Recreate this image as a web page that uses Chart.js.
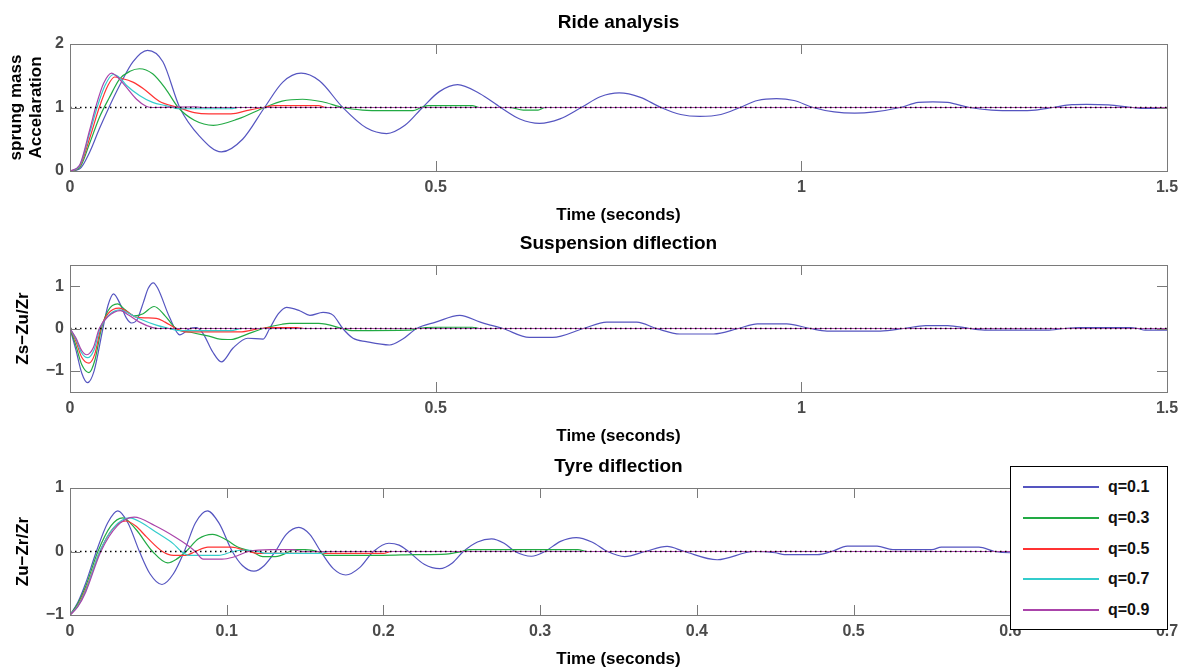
<!DOCTYPE html>
<html>
<head>
<meta charset="utf-8">
<title>Ride analysis</title>
<script src="https://cdn.jsdelivr.net/npm/chart.js@4.4.0/dist/chart.umd.min.js"></script>
<style>
    body { margin: 0; background: #fff; width: 1193px; height: 671px; overflow: hidden; position: relative; font-family: "Liberation Sans", Arial, sans-serif; }
    canvas { position: absolute; left: 0; }
    #legend { position: absolute; left: 1010px; top: 466px; width: 156px; height: 162px; border: 1px solid #000; background: #fff; }
    .row { position: absolute; left: 0; width: 156px; height: 20px; }
    .row .swatch { position: absolute; left: 12px; top: 9px; width: 76px; height: 2px; }
    .row span { position: absolute; left: 97px; top: 0; font-weight: bold; font-size: 16px; line-height: 20px; color: #111; }
</style>
</head>
<body>
<canvas id="ride" width="1193" height="223" style="top:4px"></canvas>
<canvas id="susp" width="1193" height="223" style="top:225px"></canvas>
<canvas id="tyre" width="1193" height="223" style="top:448px"></canvas>
<div id="legend"></div>

<script>
// series names + colours (q = damping ratio)
const seriesLabels = ["q=0.1", "q=0.3", "q=0.5", "q=0.7", "q=0.9"];
const seriesColors = ["#5555c0", "#22aa44", "#ff3333", "#33cccc", "#aa44aa"];

// axis ticks
const rideXTicks = [0, 0.5, 1, 1.5];
const tyreXTicks = [0, 0.1, 0.2, 0.3, 0.4, 0.5, 0.6, 0.7];
const rideYTicks = [0, 1, 2];
const suspYTicks = [-1, 0, 1];
const tyreYTicks = [-1, 0, 1];

// --- Ride analysis: [time, sprung mass acceleration] ---
const rideQ1 = [[0,0],[0.013,0.03],[0.027,0.3],[0.04,0.66],[0.052,0.97],[0.068,1.35],[0.086,1.72],[0.106,1.9],[0.127,1.72],[0.15,1.0],[0.177,0.55],[0.207,0.3],[0.236,0.5],[0.266,1.0],[0.291,1.4],[0.316,1.54],[0.341,1.42],[0.373,1.0],[0.405,0.68],[0.433,0.59],[0.458,0.72],[0.482,1.0],[0.505,1.25],[0.53,1.36],[0.56,1.22],[0.589,1.0],[0.615,0.82],[0.642,0.75],[0.67,0.82],[0.699,1.0],[0.725,1.17],[0.751,1.23],[0.78,1.16],[0.808,1.0],[0.835,0.89],[0.861,0.86],[0.89,0.89],[0.916,1.0],[0.94,1.11],[0.966,1.14],[0.99,1.11],[1.016,1.0],[1.045,0.93],[1.073,0.91],[1.1,0.93],[1.135,1.0],[1.16,1.08],[1.18,1.09],[1.2,1.08],[1.23,1.0],[1.26,0.96],[1.295,0.95],[1.32,0.96],[1.344,1.0],[1.37,1.045],[1.39,1.05],[1.42,1.04],[1.453,1.0],[1.47,0.985],[1.5,0.985]];
const rideQ3 = [[0,0],[0.013,0.05],[0.027,0.44],[0.04,0.84],[0.054,1.16],[0.068,1.45],[0.082,1.57],[0.095,1.61],[0.113,1.53],[0.131,1.29],[0.148,1.0],[0.17,0.8],[0.196,0.72],[0.23,0.82],[0.266,1.0],[0.29,1.1],[0.318,1.13],[0.345,1.09],[0.373,1.0],[0.4,0.96],[0.43,0.95],[0.469,0.95],[0.48,1.0],[0.49,1.03],[0.55,1.03],[0.56,1.0],[0.6,1.0],[0.62,0.96],[0.64,0.96],[0.65,1.0],[1.5,1.0]];
const rideQ5 = [[0,0],[0.013,0.07],[0.027,0.52],[0.04,1.0],[0.052,1.35],[0.061,1.48],[0.07,1.46],[0.086,1.4],[0.1,1.3],[0.122,1.1],[0.148,1.0],[0.17,0.92],[0.19,0.9],[0.22,0.9],[0.245,0.96],[0.264,1.0],[0.28,1.03],[0.34,1.03],[0.35,1.0],[1.5,1.0]];
const rideQ7 = [[0,0],[0.013,0.08],[0.027,0.6],[0.037,1.0],[0.048,1.35],[0.059,1.52],[0.068,1.47],[0.077,1.35],[0.095,1.19],[0.113,1.08],[0.131,1.03],[0.15,0.98],[0.22,0.98],[0.23,1.0],[1.5,1.0]];
const rideQ9 = [[0,0],[0.013,0.09],[0.027,0.65],[0.035,1.0],[0.046,1.38],[0.057,1.54],[0.063,1.5],[0.077,1.32],[0.091,1.13],[0.104,1.02],[0.113,1.0],[0.17,1.01],[0.18,1.0],[1.5,1.0]];
const rideRef = [[0,1],[1.5,1]];

// --- Suspension diflection: [time, Zs-Zu/Zr] ---
const suspQ1 = [[0,0],[0.008,-0.5],[0.016,-1.05],[0.024,-1.28],[0.033,-1.0],[0.045,0],[0.052,0.55],[0.0595,0.82],[0.068,0.6],[0.077,0.25],[0.084,0.13],[0.092,0.22],[0.1,0.6],[0.107,0.95],[0.114,1.08],[0.12,0.95],[0.136,0.27],[0.15,-0.15],[0.164,0],[0.173,0.02],[0.182,-0.12],[0.195,-0.55],[0.207,-0.79],[0.223,-0.46],[0.243,-0.23],[0.264,-0.25],[0.273,0],[0.285,0.35],[0.296,0.5],[0.314,0.42],[0.328,0.31],[0.346,0.38],[0.36,0.31],[0.373,0],[0.387,-0.23],[0.405,-0.31],[0.437,-0.39],[0.455,-0.25],[0.474,0],[0.5,0.15],[0.533,0.31],[0.561,0.15],[0.575,0.08],[0.592,0],[0.628,-0.21],[0.66,-0.21],[0.702,0],[0.734,0.15],[0.775,0.15],[0.802,0],[0.834,-0.13],[0.88,-0.13],[0.914,0],[0.94,0.11],[0.98,0.11],[1.012,0],[1.035,-0.06],[1.108,-0.06],[1.14,0],[1.17,0.07],[1.2,0.07],[1.23,0],[1.254,-0.04],[1.336,-0.04],[1.36,0],[1.38,0.02],[1.45,0.02],[1.46,0],[1.47,-0.04],[1.5,-0.04]];
const suspQ3 = [[0,0],[0.008,-0.4],[0.016,-0.85],[0.026,-1.04],[0.034,-0.75],[0.043,0],[0.052,0.42],[0.065,0.58],[0.075,0.45],[0.088,0.3],[0.1,0.35],[0.115,0.52],[0.13,0.3],[0.145,0],[0.168,-0.1],[0.19,-0.18],[0.205,-0.25],[0.22,-0.26],[0.24,-0.15],[0.264,0],[0.29,0.1],[0.3,0.12],[0.34,0.12],[0.373,0],[0.385,-0.05],[0.465,-0.04],[0.475,0],[0.5,0.03],[0.55,0.03],[0.56,0],[1.5,0]];
const suspQ5 = [[0,0],[0.008,-0.3],[0.016,-0.68],[0.026,-0.82],[0.034,-0.6],[0.042,0],[0.052,0.35],[0.067,0.48],[0.078,0.4],[0.09,0.27],[0.104,0.25],[0.118,0.24],[0.13,0.15],[0.145,0],[0.159,-0.08],[0.232,-0.08],[0.26,0],[0.275,0.02],[0.31,0.02],[0.32,0],[1.5,0]];
const suspQ7 = [[0,0],[0.008,-0.25],[0.016,-0.58],[0.024,-0.69],[0.033,-0.5],[0.041,0],[0.052,0.3],[0.068,0.44],[0.08,0.36],[0.095,0.23],[0.118,0.08],[0.131,0.02],[0.15,-0.05],[0.22,-0.05],[0.235,0],[1.5,0]];
const suspQ9 = [[0,0],[0.008,-0.22],[0.016,-0.52],[0.023,-0.62],[0.032,-0.45],[0.04,0],[0.052,0.28],[0.069,0.42],[0.08,0.32],[0.095,0.15],[0.113,0.02],[0.12,0],[1.5,0]];
const suspRef = [[0,0],[1.5,0]];

// --- Tyre diflection: [time, Zu-Zr/Zr] ---
const tyreQ1 = [[0,-1],[0.005,-0.8],[0.01,-0.5],[0.0168,0],[0.024,0.45],[0.0305,0.64],[0.037,0.45],[0.0443,0],[0.051,-0.35],[0.0587,-0.52],[0.066,-0.35],[0.0729,0],[0.08,0.45],[0.0877,0.64],[0.095,0.45],[0.1036,0],[0.11,-0.22],[0.1174,-0.31],[0.124,-0.22],[0.131,0],[0.138,0.27],[0.146,0.38],[0.153,0.27],[0.16,0],[0.168,-0.27],[0.176,-0.37],[0.185,-0.25],[0.1936,0],[0.2035,0.13],[0.21,0.1],[0.216,0],[0.226,-0.2],[0.236,-0.27],[0.244,-0.18],[0.251,0],[0.26,0.15],[0.269,0.2],[0.277,0.13],[0.284,0],[0.2945,-0.075],[0.303,0],[0.313,0.16],[0.323,0.22],[0.333,0.15],[0.343,0],[0.354,-0.08],[0.367,0],[0.381,0.08],[0.392,0],[0.413,-0.13],[0.4365,0],[0.45,-0.02],[0.456,-0.05],[0.477,-0.05],[0.486,0],[0.496,0.085],[0.515,0.085],[0.525,0.03],[0.55,0.03],[0.556,0.07],[0.58,0.07],[0.59,0],[0.6,-0.02],[0.615,-0.02],[0.63,0],[0.65,0.02],[0.68,0.02],[0.7,0]];
const tyreQ3 = [[0,-1],[0.005,-0.82],[0.01,-0.55],[0.0178,0],[0.026,0.4],[0.0337,0.53],[0.042,0.35],[0.0527,0],[0.0623,-0.18],[0.068,-0.12],[0.074,0],[0.082,0.2],[0.0909,0.27],[0.1,0.18],[0.107,0.07],[0.116,0],[0.123,-0.08],[0.131,-0.08],[0.14,0],[0.142,0.03],[0.15,0.03],[0.158,0],[0.163,-0.06],[0.199,-0.06],[0.22,-0.05],[0.24,-0.04],[0.25,0],[0.255,0.03],[0.324,0.03],[0.33,0],[0.7,0]];
const tyreQ5 = [[0,-1],[0.005,-0.85],[0.01,-0.6],[0.019,0],[0.027,0.35],[0.0358,0.48],[0.042,0.4],[0.0488,0.23],[0.059,0],[0.066,-0.06],[0.074,-0.06],[0.08,0],[0.088,0.07],[0.103,0.07],[0.114,0],[0.12,-0.03],[0.2,-0.03],[0.205,0],[0.7,0]];
const tyreQ7 = [[0,-1],[0.005,-0.86],[0.01,-0.62],[0.019,0],[0.028,0.38],[0.038,0.53],[0.046,0.45],[0.0545,0.31],[0.066,0.12],[0.071,0],[0.076,-0.06],[0.095,-0.06],[0.104,0],[0.11,0.02],[0.115,0.02],[0.12,0],[0.125,-0.03],[0.16,-0.03],[0.165,0],[0.7,0]];
const tyreQ9 = [[0,-1],[0.005,-0.87],[0.01,-0.64],[0.0197,0],[0.03,0.4],[0.041,0.54],[0.054,0.41],[0.067,0.23],[0.075,0.1],[0.08,0],[0.085,-0.12],[0.097,-0.12],[0.104,-0.09],[0.114,0],[0.128,0.03],[0.142,0.03],[0.148,0],[0.7,0]];
const tyreRef = [[0,0],[0.7,0]];

const FONT = '"Liberation Sans", Arial, sans-serif';
const TICK_LEN = 10;

// box around the axes + MATLAB style inward ticks
const framePlugin = {
    id: "frame",
    afterDraw(chart) {
        const { ctx, chartArea: a, scales } = chart;
        const x = scales.x, y = scales.y;
        ctx.save();
        ctx.strokeStyle = "#7a7a7a";
        ctx.lineWidth = 1;
        ctx.strokeRect(a.left + 0.5, a.top + 0.5, a.width, a.height);
        ctx.beginPath();
        x.ticks.forEach(t => {
            const px = Math.round(x.getPixelForValue(t.value)) + 0.5;
            ctx.moveTo(px, a.top); ctx.lineTo(px, a.top + TICK_LEN);
            ctx.moveTo(px, a.bottom); ctx.lineTo(px, a.bottom - TICK_LEN);
        });
        y.ticks.forEach(t => {
            const py = Math.round(y.getPixelForValue(t.value)) + 0.5;
            ctx.moveTo(a.left, py); ctx.lineTo(a.left + TICK_LEN, py);
            ctx.moveTo(a.right, py); ctx.lineTo(a.right - TICK_LEN, py);
        });
        ctx.stroke();
        ctx.restore();
    }
};

const toPts = arr => arr.map(([x, y]) => ({ x, y }));
const fmt = v => String(v).replace("-", "\u2212");

function makeChart(id, opts) {
    const datasets = opts.series.map((s, i) => ({
        label: seriesLabels[i],
        data: toPts(s),
        borderColor: seriesColors[i],
        borderWidth: 1.2,
        pointRadius: 0,
        cubicInterpolationMode: "monotone",
        order: 5 - i, // later q drawn on top, like MATLAB hold on
    }));
    // dotted steady-state reference
    datasets.push({
        label: "ref",
        data: toPts(opts.ref),
        borderColor: "#000",
        borderWidth: 1.4,
        borderDash: [1.5, 3.5],
        pointRadius: 0,
        order: 0,
    });

    return new Chart(document.getElementById(id), {
        type: "line",
        data: { datasets },
        options: {
            responsive: false,
            animation: false,
            devicePixelRatio: 1,
            layout: { padding: { left: 0, right: 26, top: 0, bottom: 0 } },
            plugins: {
                legend: { display: false },
                tooltip: { enabled: false },
                title: {
                    display: true,
                    text: opts.title,
                    fullSize: false,
                    color: "#000",
                    font: { family: FONT, size: 19, weight: "bold" },
                    padding: { top: 7.6, bottom: 9.6 },
                },
            },
            scales: {
                x: {
                    type: "linear",
                    min: opts.xMin,
                    max: opts.xMax,
                    grid: { display: false, drawTicks: false },
                    border: { display: false },
                    afterBuildTicks: s => { s.ticks = opts.xTicks.map(v => ({ value: v })); },
                    afterFit: s => { s.height = 56; },
                    ticks: {
                        padding: 7,
                        maxRotation: 0,
                        color: "#4a4a4a",
                        font: { family: FONT, size: 16, weight: "bold" },
                        callback: fmt,
                    },
                    title: {
                        display: true,
                        text: "Time (seconds)",
                        color: "#000",
                        font: { family: FONT, size: 17, weight: "bold" },
                        padding: { top: 0, bottom: 1 },
                    },
                },
                y: {
                    min: opts.yMin,
                    max: opts.yMax,
                    grid: { display: false, drawTicks: false },
                    border: { display: false },
                    afterBuildTicks: s => { s.ticks = opts.yTicks.map(v => ({ value: v })); },
                    afterFit: s => { s.width = 70; },
                    ticks: {
                        padding: 6,
                        color: "#4a4a4a",
                        font: { family: FONT, size: 16, weight: "bold" },
                        callback: fmt,
                    },
                    title: {
                        display: true,
                        text: opts.yTitle,
                        color: "#000",
                        font: { family: FONT, size: 17, weight: "bold" },
                        padding: { top: opts.yTitlePad, bottom: 0 },
                    },
                },
            },
        },
        plugins: [framePlugin],
    });
}

// Ride analysis
makeChart("ride", {
    title: "Ride analysis",
    series: [rideQ1, rideQ3, rideQ5, rideQ7, rideQ9],
    ref: rideRef,
    xMin: 0, xMax: 1.5, xTicks: rideXTicks,
    yMin: 0, yMax: 2, yTicks: rideYTicks,
    yTitle: ["sprung mass", "Accelaration"],
    yTitlePad: 6,
});

// Suspension diflection
makeChart("susp", {
    title: "Suspension diflection",
    series: [suspQ1, suspQ3, suspQ5, suspQ7, suspQ9],
    ref: suspRef,
    xMin: 0, xMax: 1.5, xTicks: rideXTicks,
    yMin: -1.5, yMax: 1.5, yTicks: suspYTicks,
    yTitle: "Zs\u2212Zu/Zr",
    yTitlePad: 13,
});

// Tyre diflection
makeChart("tyre", {
    title: "Tyre diflection",
    series: [tyreQ1, tyreQ3, tyreQ5, tyreQ7, tyreQ9],
    ref: tyreRef,
    xMin: 0, xMax: 0.7, xTicks: tyreXTicks,
    yMin: -1, yMax: 1, yTicks: tyreYTicks,
    yTitle: "Zu\u2212Zr/Zr",
    yTitlePad: 13,
});

// legend box (sits over the tyre plot like the matlab one)
const legendEl = document.getElementById("legend");
seriesLabels.forEach((name, i) => {
    const row = document.createElement("div");
    row.className = "row";
    row.style.top = Math.round(10 + i * 30.8) + "px";
    const swatch = document.createElement("div");
    swatch.className = "swatch";
    swatch.style.backgroundColor = seriesColors[i];
    const label = document.createElement("span");
    label.textContent = name;
    row.appendChild(swatch);
    row.appendChild(label);
    legendEl.appendChild(row);
});
</script>
</body>
</html>
